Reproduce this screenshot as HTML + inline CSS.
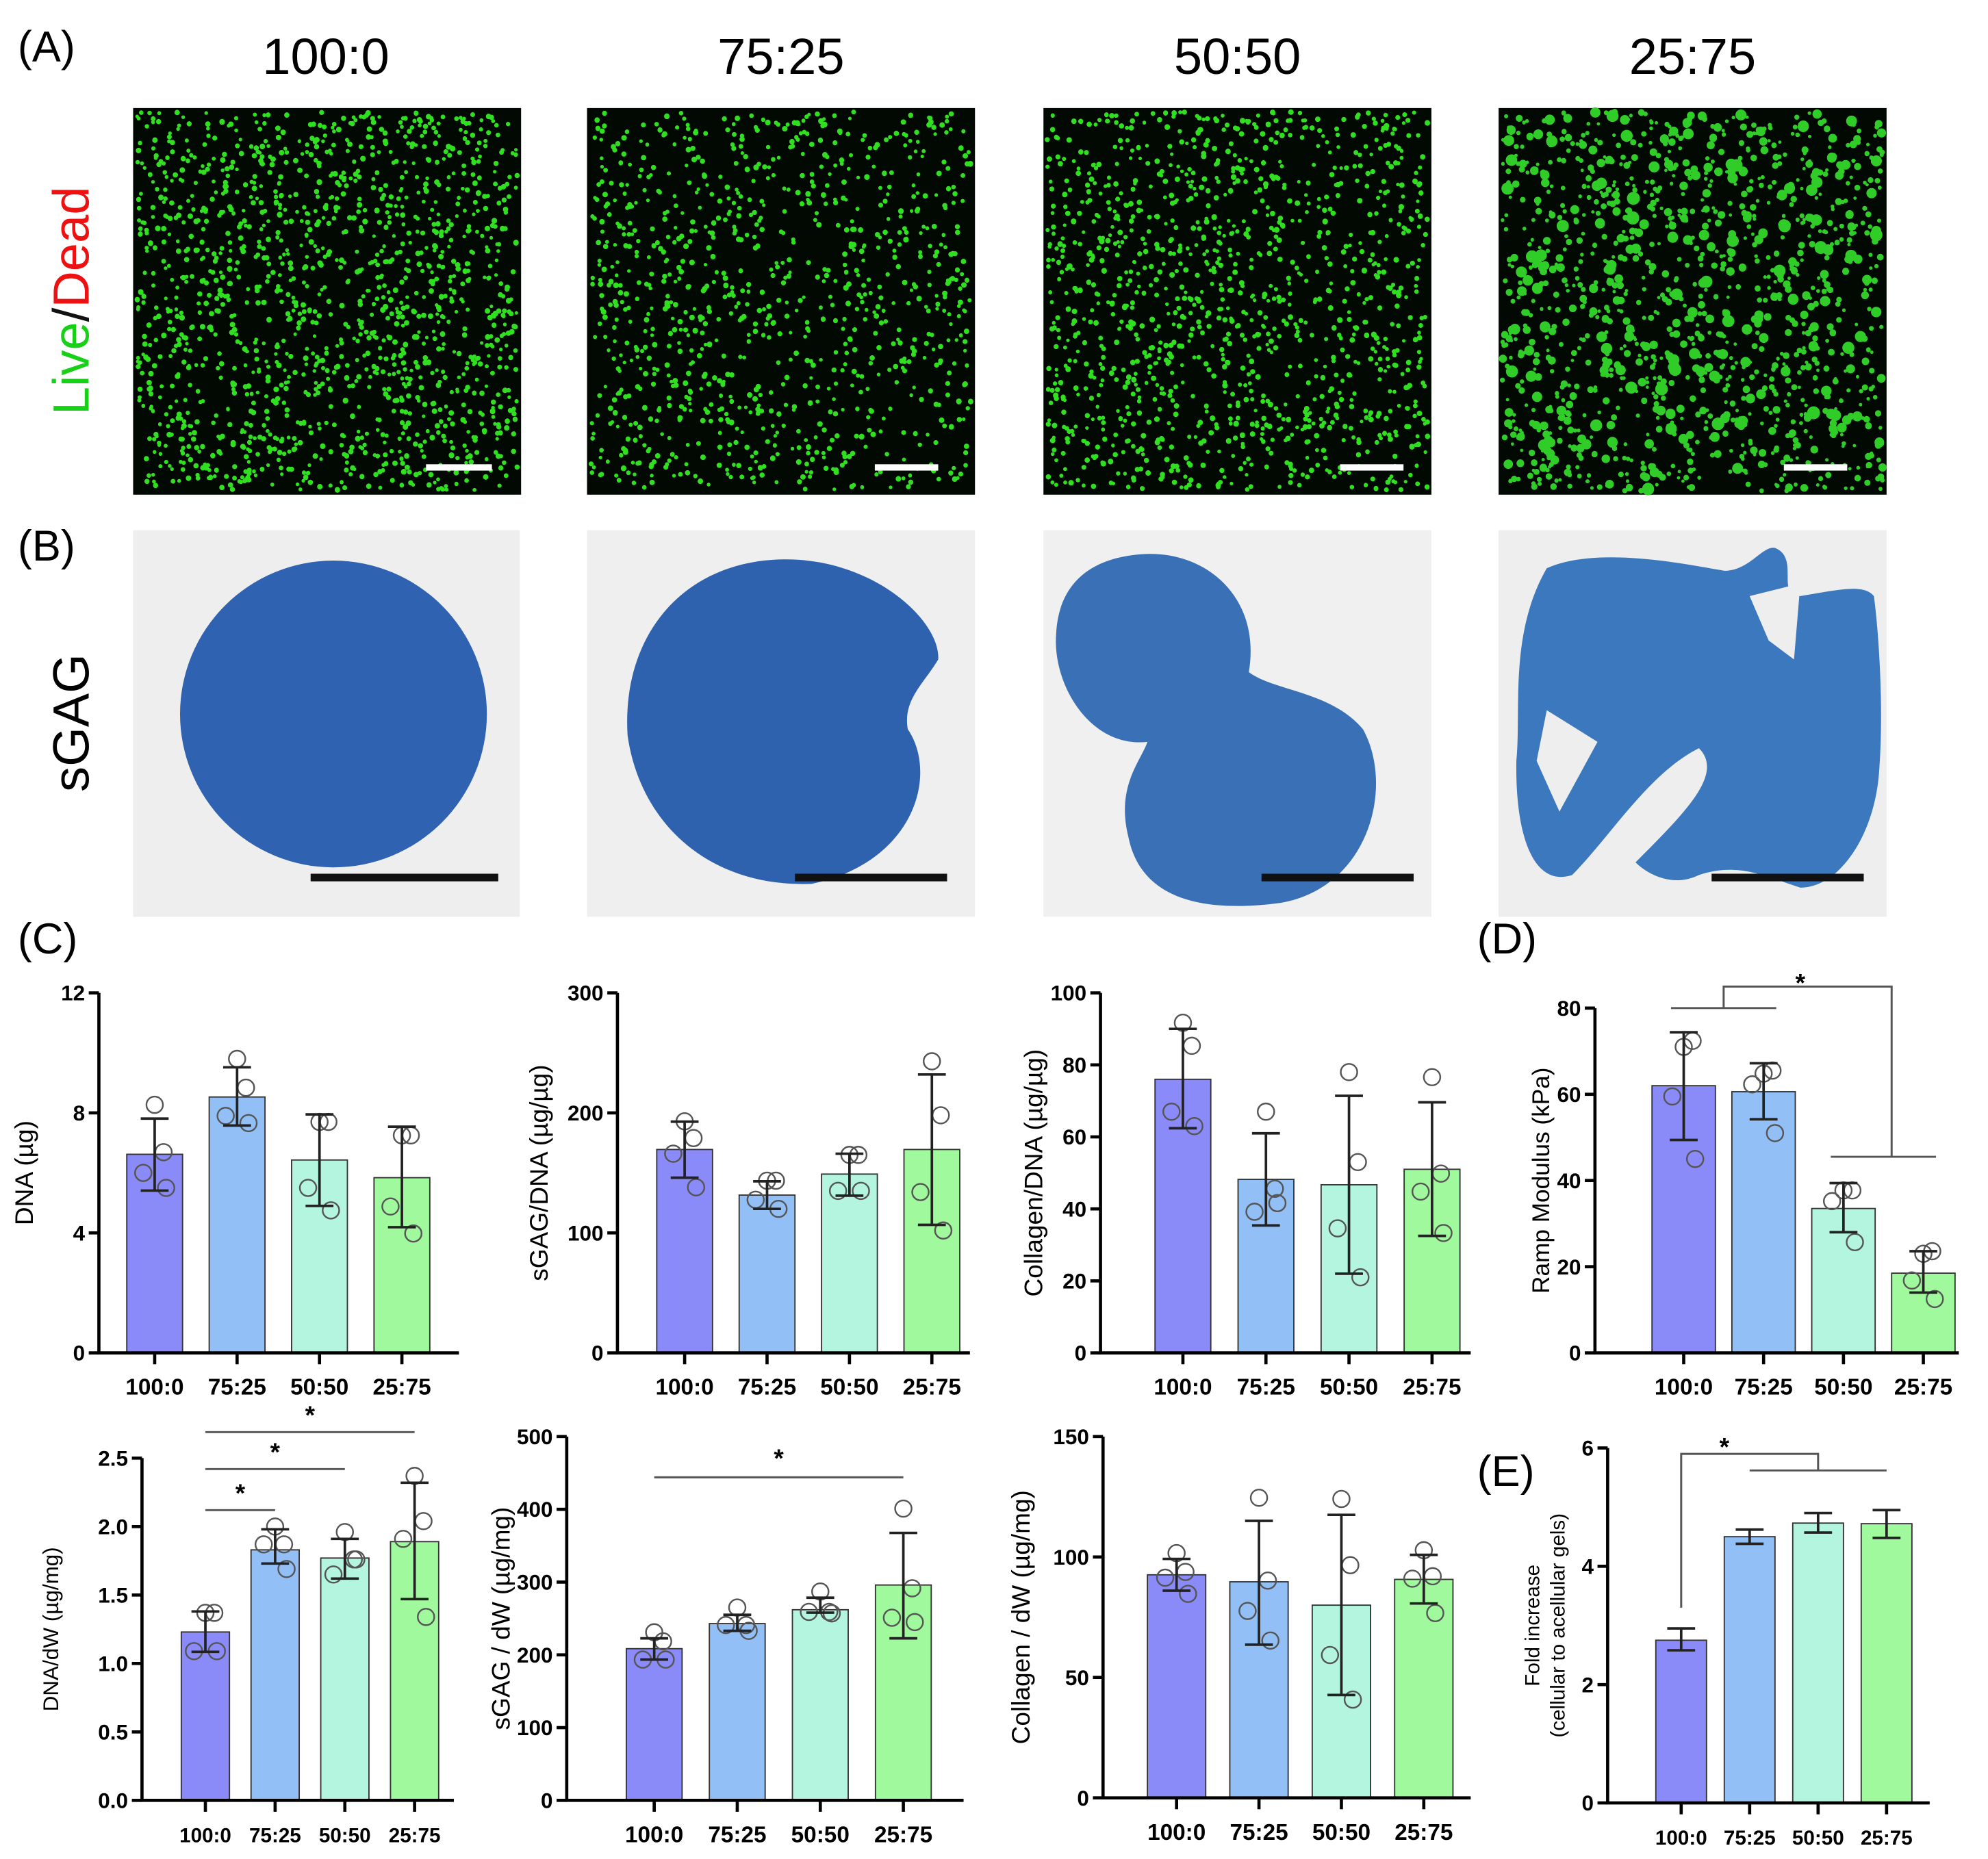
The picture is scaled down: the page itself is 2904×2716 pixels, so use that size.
<!DOCTYPE html>
<html><head><meta charset="utf-8"><style>
html,body{margin:0;padding:0;background:#fff}
svg{display:block}
text{font-family:"Liberation Sans",sans-serif}
</style></head><body>
<svg id="fig" width="2904" height="2716" viewBox="0 0 1568 1466" xmlns="http://www.w3.org/2000/svg">
<rect width="1568" height="1466" fill="#fff"/>
<g id="panelA"></g>
<g id="panelB">
 <rect x="105" y="418" width="305" height="305" fill="#eeeeee"/>
 <rect x="463" y="418" width="306" height="305" fill="#efefef"/>
 <rect x="823" y="418" width="306" height="305" fill="#f0f0f0"/>
 <rect x="1182" y="418" width="306" height="305" fill="#eeeeee"/>
 <circle cx="263" cy="563" r="121" fill="#2f62b0"/>
 <path d="M620 441 C690 441 742 490 740 520 C728 540 712 552 716 575 C740 610 722 680 640 697 C560 700 505 650 495 580 C490 500 540 441 620 441Z" fill="#2e61ae"/>
 <path d="M900 437 C950 433 995 470 985 530 C1005 545 1050 545 1075 575 C1100 620 1080 700 1010 712 C950 720 900 710 890 660 C880 620 900 600 905 585 C860 590 830 540 833 500 C835 460 860 440 900 437Z" fill="#3a70b5"/>
 <path d="M1220 448 C1260 430 1330 445 1360 450 C1380 450 1390 430 1400 432 C1420 440 1400 470 1420 470 C1450 465 1470 460 1478 470 C1482 500 1486 560 1482 610 C1478 660 1450 700 1420 700 C1390 690 1370 680 1340 690 C1320 700 1300 690 1290 680 C1330 640 1360 610 1340 590 C1300 610 1270 660 1240 690 C1210 700 1195 660 1196 600 C1200 560 1190 500 1220 448Z" fill="#3b78bd"/>
 <path d="M1380 470 L1420 460 L1415 520 L1395 505Z" fill="#eeeeee"/>
 <path d="M1220 560 L1260 585 L1230 640 L1212 600Z" fill="#eeeeee"/>
 <rect x="245" y="689" width="148" height="6" fill="#111"/>
 <rect x="627" y="689" width="120" height="6" fill="#111"/>
 <rect x="995" y="689" width="120" height="6" fill="#111"/>
 <rect x="1350" y="689" width="120" height="6" fill="#111"/>
</g>
<g font-size="34">
 <text x="14" y="48">(A)</text>
 <text x="14" y="442">(B)</text>
 <text x="14" y="752">(C)</text>
 <text x="1165" y="752">(D)</text>
 <text x="1165" y="1172">(E)</text>
 <text x="257" y="58" text-anchor="middle" font-size="40">100:0</text>
 <text x="616" y="58" text-anchor="middle" font-size="40">75:25</text>
 <text x="976" y="58" text-anchor="middle" font-size="40">50:50</text>
 <text x="1335" y="58" text-anchor="middle" font-size="40">25:75</text>
 <text transform="translate(70,237) rotate(-90)" text-anchor="middle" font-size="40"><tspan fill="#17d017">Live</tspan><tspan fill="#111">/</tspan><tspan fill="#ee1111">Dead</tspan></text>
 <text transform="translate(70,570) rotate(-90)" text-anchor="middle" font-size="40">sGAG</text>
</g>
<g id="charts"></g>
</svg>
<script>
const NS='http://www.w3.org/2000/svg';
const categories=['100:0','75:25','50:50','25:75'];
const barColors=['#8a8af8','#92bff5','#b3f5de','#a0f99c'];

const dnaMeans=[6.62,8.53,6.43,5.84];
const dnaHi=[7.81,9.52,7.95,7.54];
const dnaLo=[5.41,7.58,4.9,4.19];
const dnaPts=[[8.27,6.69,6.0,5.5],[9.8,8.84,7.9,7.66],[7.7,7.7,5.5,4.75],[7.25,7.25,4.88,3.98]];
const dnaTicks=[0,4,8,12];

const sdMeans=[169.5,131.5,149,169.5];
const sdHi=[192.7,143,166,232];
const sdLo=[146,120,131,106.7];
const sdPts=[[193,179,166,138],[143.5,143.5,127.6,120],[165,165,135,135],[243,198,134,102]];
const sdTicks=[0,100,200,300];

const cdMeans=[76,48.2,46.7,51];
const cdHi=[90,61,71.4,69.6];
const cdLo=[62.4,35.4,22,32.5];
const cdPts=[[91.7,85.3,67,63],[67,45.6,39.2,41.6],[78,53,34.6,21],[76.6,49.8,44.8,33.3]];
const cdTicks=[0,20,40,60,80,100];

const rmMeans=[62,60.6,33.5,18.5];
const rmHi=[74.4,67.2,39.4,23.6];
const rmLo=[49.4,54.2,28,14];
const rmPts=[[71,72.4,59.5,45],[64.8,65.5,62.3,51],[37.7,37.7,35.2,25.7],[23,23.6,16.8,12.5]];
const rmTicks=[0,20,40,60,80];

const ddMeans=[1.23,1.83,1.77,1.89];
const ddHi=[1.38,1.98,1.91,2.32];
const ddLo=[1.085,1.73,1.62,1.47];
const ddPts=[[1.37,1.37,1.09,1.09],[2.0,1.87,1.87,1.69],[1.96,1.76,1.65,1.76],[2.37,2.04,1.91,1.34]];
const ddTicks=[0,0.5,1.0,1.5,2.0,2.5];

const swMeans=[208.5,243,262,296];
const swHi=[222.7,255,278.5,367.6];
const swLo=[193.5,233,258,222.7];
const swPts=[[231,218.6,193.5,193.5],[265,241,241,233],[287,259,259,257],[401,291.5,251,245]];
const swTicks=[0,100,200,300,400,500];

const cwMeans=[92.6,89.7,80,90.7];
const cwHi=[99.2,115,117.5,100.9];
const cwLo=[86,63.6,42.7,80.7];
const cwPts=[[101.6,93.8,91.4,84.7],[124.6,90.2,77.6,65.3],[124.1,96.6,59.3,40.8],[102.8,92,91,76.7]];
const cwTicks=[0,50,100,150];

const fiMeans=[2.75,4.5,4.73,4.72];
const fiHi=[2.95,4.62,4.9,4.95];
const fiLo=[2.58,4.38,4.57,4.48];
const fiTicks=[0,2,4,6];

function mk(tag,attrs,parent){const e=document.createElementNS(NS,tag);for(const k in attrs)e.setAttribute(k,attrs[k]);parent.appendChild(e);return e;}

const charts=document.getElementById('charts');
function chart(o){
  const g=mk('g',{},charts);
  
  
  const max=o.ticks[o.ticks.length-1];
  const Y=v=>o.yBot-(v/max)*(o.yBot-o.yTop);
  const X=i=>o.first+i*o.step;
  o.means.forEach((m,i)=>{
    const r=mk('rect',{x:X(i)-o.bw/2,y:Y(m),width:o.bw,height:o.yBot-Y(m),fill:barColors[i],stroke:'#333','stroke-width':1},g);
    
    
  });
  if(o.pts) o.pts.forEach((ps,i)=>{
    ps.forEach((p,j)=>{
      const c=mk('circle',{cx:X(i)+[0,7,-9,9][j],cy:Y(p),r:6.5,fill:'none',stroke:'#555','stroke-width':1.3},g);
      
      
    });
  });
  o.means.forEach((m,i)=>{
    const p=mk('path',{d:`M${X(i)} ${Y(o.hi[i])}V${Y(o.lo[i])}M${X(i)-11} ${Y(o.hi[i])}h22M${X(i)-11} ${Y(o.lo[i])}h22`,stroke:'#222','stroke-width':2,fill:'none'},g);
    
    
  });
  const ax=mk('path',{d:`M${o.x0} ${o.yTop}V${o.yBot}H${o.xEnd}`,stroke:'#000','stroke-width':2.5,fill:'none'},g);
  
  
  o.ticks.forEach(t=>{
    mk('line',{x1:o.x0-8,x2:o.x0,y1:Y(t),y2:Y(t),stroke:'#000','stroke-width':2.5},g);
    const tx=mk('text',{x:o.x0-11,y:Y(t)+6,'text-anchor':'end','font-size':17,'font-weight':'bold'},g);
    tx.textContent=o.fmt?t.toFixed(1):t;
    
    
  });
  categories.forEach((c,i)=>{
    mk('line',{x1:X(i),x2:X(i),y1:o.yBot,y2:o.yBot+9,stroke:'#000','stroke-width':2.5},g);
    const tx=mk('text',{x:X(i),y:o.yBot+33,'text-anchor':'middle','font-size':o.xfs||18,'font-weight':'bold'},g);
    tx.textContent=c;
    
    
  });
  o.title.forEach((t,k)=>{
    const tx=mk('text',{transform:`translate(${o.tx+k*20},${(o.yTop+o.yBot)/2}) rotate(-90)`,'text-anchor':'middle','font-size':o.tfs||20},g);
    tx.textContent=t;
    
    
  });
  return {g,X,Y};
}

chart({name:'dna-chart',x0:78,yTop:783,yBot:1067,xEnd:362,first:122,step:65,bw:44,ticks:dnaTicks,means:dnaMeans,hi:dnaHi,lo:dnaLo,pts:dnaPts,title:['DNA (µg)'],tx:26});
chart({name:'sgag-dna-chart',x0:487,yTop:783,yBot:1067,xEnd:765,first:540,step:65,bw:44,ticks:sdTicks,means:sdMeans,hi:sdHi,lo:sdLo,pts:sdPts,title:['sGAG/DNA (µg/µg)'],tx:432});
chart({name:'collagen-dna-chart',x0:868,yTop:783,yBot:1067,xEnd:1160,first:933,step:65.5,bw:44,ticks:cdTicks,means:cdMeans,hi:cdHi,lo:cdLo,pts:cdPts,title:['Collagen/DNA (µg/µg)'],tx:822});
const D=chart({name:'ramp-modulus-chart',x0:1258,yTop:795,yBot:1067,xEnd:1545,first:1328,step:63,bw:50,ticks:rmTicks,means:rmMeans,hi:rmHi,lo:rmLo,pts:rmPts,title:['Ramp Modulus (kPa)'],tx:1222,tfs:19});
const R1=chart({name:'dna-dw-chart',x0:112,yTop:1150,yBot:1420,xEnd:358,first:162,step:55,bw:38,ticks:ddTicks,fmt:1,means:ddMeans,hi:ddHi,lo:ddLo,pts:ddPts,title:['DNA/dW (µg/mg)'],tx:46,xfs:16,tfs:17});
const R2=chart({name:'sgag-dw-chart',x0:447,yTop:1133,yBot:1420,xEnd:760,first:516,step:65.5,bw:44,ticks:swTicks,means:swMeans,hi:swHi,lo:swLo,pts:swPts,title:['sGAG / dW (µg/mg)'],tx:402});
chart({name:'collagen-dw-chart',x0:870,yTop:1133,yBot:1418,xEnd:1160,first:928,step:65,bw:46,ticks:cwTicks,means:cwMeans,hi:cwHi,lo:cwLo,pts:cwPts,title:['Collagen / dW (µg/mg)'],tx:812});
const E=chart({name:'fold-increase-chart',x0:1268,yTop:1142,yBot:1422,xEnd:1522,first:1326,step:54,bw:40,ticks:fiTicks,means:fiMeans,hi:fiHi,lo:fiLo,title:['Fold increase','(cellular to acellular gels)'],tx:1214,xfs:16,tfs:16});

function sig(d,star,sx,sy,name){
  const p=mk('path',{d:d,stroke:'#555','stroke-width':1.6,fill:'none'},charts);
  
  
  const t=mk('text',{x:sx,y:sy,'text-anchor':'middle','font-size':20,'font-weight':'bold'},charts);
  t.textContent=star;
  
  
}
sig(`M${D.X(0)-10} ${D.Y(80)}H${D.X(1)+10}M${(D.X(0)+D.X(1))/2} ${D.Y(80)}V${D.Y(85)}H${D.X(3)-25}V${D.Y(45.5)}M${D.X(2)-10} ${D.Y(45.5)}H${D.X(3)+10}`,'*',1420,782,'significance-bracket');
sig(`M${R1.X(0)} ${R1.Y(2.12)}H${R1.X(1)}`,'*',(R1.X(0)+R1.X(1))/2,R1.Y(2.2)+2,'significance-line');
sig(`M${R1.X(0)} ${R1.Y(2.42)}H${R1.X(2)}`,'*',(R1.X(0)+R1.X(2))/2,R1.Y(2.5)+2,'significance-line');
sig(`M${R1.X(0)} ${R1.Y(2.69)}H${R1.X(3)}`,'*',(R1.X(0)+R1.X(3))/2,R1.Y(2.77)+2,'significance-line');
sig(`M${R2.X(0)} ${R2.Y(444)}H${R2.X(3)}`,'*',(R2.X(0)+R2.X(3))/2,R2.Y(462)+2,'significance-line');
sig(`M${E.X(0)} ${E.Y(3.3)}V${E.Y(5.9)}H${E.X(2)}V${E.Y(5.62)}M${E.X(1)} ${E.Y(5.62)}H${E.X(3)}`,'*',(E.X(0)+E.X(2))/2-20,E.Y(6)+6,'significance-bracket');

// live/dead micrographs (texture)
const A=document.getElementById('panelA');
const xs=[105,463,823,1182];
let seed=12345;function rnd(){seed=(seed*1103515245+12345)%2147483648;return seed/2147483648;}
xs.forEach((x,k)=>{
  const g=mk('g',{},A);
  
  
  mk('rect',{x:x,y:85,width:306,height:305,fill:'#020802'},g);
  const n=[1500,1000,1250,1300][k];
  let s='';
  for(let i=0;i<n;i++){const cx=+(x+3+rnd()*300).toFixed(1),cy=+(88+rnd()*299).toFixed(1);const r=k===3?(1.3+rnd()*rnd()*4):(1.4+rnd()*0.8);s+=`M${(cx-r).toFixed(1)} ${cy}a${r.toFixed(2)} ${r.toFixed(2)} 0 1 0 ${(2*r).toFixed(2)} 0a${r.toFixed(2)} ${r.toFixed(2)} 0 1 0 ${(-2*r).toFixed(2)} 0`;}
  mk('path',{d:s,fill:k===3?'#30cc28':'#30e020'},g);
  const sb=mk('rect',{x:[336,690,1057,1407][k],y:366,width:[52,50,50,50][k],height:5,fill:'#fff'},g);
  
  
});
</script>
</body></html>
